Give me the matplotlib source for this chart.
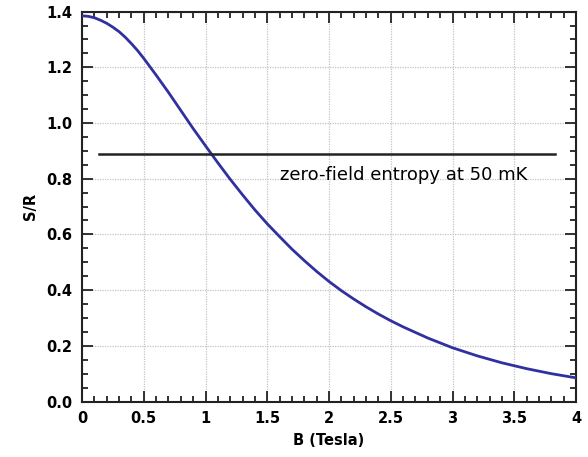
import matplotlib
matplotlib.use('Agg')
import matplotlib.pyplot as plt
from matplotlib.ticker import MultipleLocator, FuncFormatter

# values
field_tesla = [0, 0.05, 0.1, 0.15, 0.2, 0.25, 0.3, 0.35, 0.4, 0.45, 0.5, 0.6, 0.7,
               0.8, 0.9, 1.0, 1.1, 1.2, 1.3, 1.4, 1.5, 1.6, 1.7, 1.8, 1.9, 2.0,
               2.1, 2.2, 2.3, 2.4, 2.5, 2.6, 2.8, 3.0, 3.2, 3.4, 3.6, 3.8, 4.0]
entropy = [1.385, 1.383, 1.378, 1.369, 1.358, 1.344, 1.328, 1.308, 1.285, 1.26,
           1.232, 1.172, 1.11, 1.045, 0.98, 0.918, 0.857, 0.798, 0.742, 0.688,
           0.638, 0.592, 0.547, 0.506, 0.467, 0.431, 0.398, 0.368, 0.34, 0.314,
           0.29, 0.268, 0.228, 0.193, 0.164, 0.139, 0.118, 0.1, 0.085]
ref_field = [0.14, 3.83]
ref_entropy = [0.89, 0.89]
ref_text = 'zero-field entropy at 50 mK'

fig = plt.figure(figsize=(5.88, 4.57), dpi=100)
ax = fig.add_axes([0.1395, 0.1214, 0.9796 - 0.1395, 0.9746 - 0.1214])

ax.plot(field_tesla, entropy, color='#3030a0', linewidth=2.0, zorder=3)
ax.plot(ref_field, ref_entropy, color='#222222', linewidth=1.8, zorder=3)
ax.text(1.6, 0.813, ref_text, fontsize=13, va='center', ha='left')

ax.set_xlim(0, 4)
ax.set_ylim(0, 1.4)
ax.xaxis.set_major_locator(MultipleLocator(0.5))
ax.xaxis.set_minor_locator(MultipleLocator(0.1))
ax.yaxis.set_major_locator(MultipleLocator(0.2))
ax.yaxis.set_minor_locator(MultipleLocator(0.05))
ax.xaxis.set_major_formatter(FuncFormatter(lambda v, p: f'{v:g}'))
ax.yaxis.set_major_formatter(FuncFormatter(lambda v, p: f'{v:.1f}'))

ax.tick_params(which='both', direction='in', top=True, right=True, width=1.3,
               color='#222222')
ax.tick_params(which='major', length=8, labelsize=10.5, pad=7)
ax.tick_params(which='minor', length=4.5)
for lab in ax.get_xticklabels() + ax.get_yticklabels():
    lab.set_fontweight('bold')
for s in ax.spines.values():
    s.set_linewidth(1.5)
    s.set_color('#222222')

ax.grid(True, which='major', linestyle=(0, (1, 1)), color='#c4c4c4', linewidth=0.9)
ax.set_xlabel('B (Tesla)', fontsize=10.5, fontweight='bold', labelpad=5)
ax.set_ylabel('S/R', fontsize=10.5, fontweight='bold', labelpad=6)

fig.savefig('out.png', dpi=100)
